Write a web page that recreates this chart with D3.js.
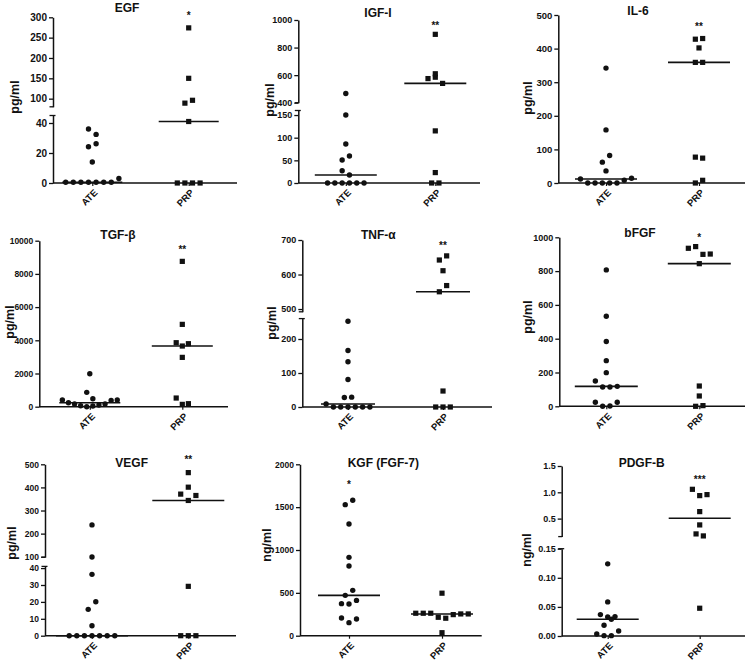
<!DOCTYPE html>
<html>
<head>
<meta charset="utf-8">
<script src="https://cdn.jsdelivr.net/npm/d3@7"></script>
<style>
  body { margin: 0; background: #fff; }
  text { font-family: "Liberation Sans", Arial, sans-serif; font-weight: bold; fill: #111; }
</style>
</head>
<body>
<div id="chart"></div>
<script>
const CATEGORIES = ["ATE", "PRP"];

// values, one array per group
const egfATE = [0.5, 0.5, 0.5, 0.5, 0.5, 0.5, 0.5, 3, 24.2, 26.2, 36, 32.4, 14];
const egfPRP = [0, 0, 0, 0, 41, 89, 96, 150, 274];
const igfATE = [0, 0, 0, 0, 0, 0, 27.2, 17.6, 50.7, 59.6, 86, 150, 467];
const igfPRP = [0, 0, 23, 115, 575, 585, 540, 610, 896];
const il6ATE = [12, 0, 0, 0, 0, 0, 8, 14, 36, 62, 82, 158, 342];
const il6PRP = [0, 8, 77, 74, 359, 359, 402, 428, 430];
const tgfATE = [400, 240, 160, 60, 0, 40, 100, 160, 380, 400, 863, 482, 1988];
const tgfPRP = [522, 140, 181, 2972, 3855, 3655, 3795, 4960, 8755];
const tnfATE = [8.9, 0, 0, 0, 0, 0, 0, 28, 29, 81, 133, 166, 252];
const tnfPRP = [0, 0, 0, 47, 550, 568, 611, 642, 654];
const bfgfATE = [24, 0, 2, 24, 150, 114, 114, 118, 199, 270, 383, 533, 807];
const bfgfPRP = [0, 4, 61, 120, 844, 935, 945, 899, 901];
const vegfATE = [0, 0, 0, 0, 0, 0, 0, 5.9, 15.6, 20.1, 36.3, 98.6, 237.7];
const vegfPRP = [0, 0, 0, 29.2, 371, 343.5, 365, 401, 464];
const kgfATE = [206, 152, 195, 374, 370, 412, 471, 529, 813, 914, 1303, 1529, 1580];
const kgfPRP = [262, 262, 262, 215, 204, 246, 254, 254, 496, 35];
const pdgfATE = [0.0034, 0.0006, 0.0006, 0.0086, 0.0184, 0.0368, 0.0287, 0.0328, 0.0333, 0.0586, 0.124];
const pdgfPRP = [0.0477, 0.209, 0.171, 0.380, 0.633, 1.057, 0.937, 0.956];

// y-axis segments (broken axes have two)
const egfTicksLow = [0, 20, 40], egfTicksHigh = [100, 150, 200, 250, 300];
const igfTicksLow = [0, 50, 100, 150], igfTicksHigh = [400, 600, 800, 1000];
const il6Ticks = [0, 100, 200, 300, 400, 500];
const tgfTicks = [0, 2000, 4000, 6000, 8000, 10000];
const tnfTicksLow = [0, 100, 200], tnfTicksHigh = [500, 600, 700];
const bfgfTicks = [0, 200, 400, 600, 800, 1000];
const vegfTicksLow = [0, 10, 20, 30, 40], vegfTicksHigh = [100, 200, 300, 400, 500];
const kgfTicks = [0, 500, 1000, 1500, 2000];
const pdgfTicksLow = [0, 0.05, 0.10, 0.15], pdgfTicksHigh = [0.5, 1.0, 1.5];

const PANELS = [
  { title: "EGF", unit: "pg/ml", data: [egfATE, egfPRP], sig: "*", sigCol: "PRP",
    ax: 53, xEnd: 237, cols: [92.3, 188.7], fs: 10, gap: 7.6, medW: 60,
    titleXY: [127, 11.5], unitXY: [15, 97], sigY: 19,
    segs: [{ d: [0, 45], r: [183, 115.5], t: egfTicksLow }, { d: [80, 300], r: [106.8, 17.3], t: egfTicksHigh }] },
  { title: "IGF-I", unit: "pg/ml", data: [igfATE, igfPRP], sig: "**", sigCol: "PRP",
    ax: 298.3, xEnd: 480, cols: [345.8, 435.3], fs: 9, gap: 7.3, medW: 62,
    titleXY: [378, 16.5], unitXY: [270, 100], sigY: 29,
    segs: [{ d: [0, 160], r: [183, 110.5], t: igfTicksLow }, { d: [400, 1000], r: [102.7, 20], t: igfTicksHigh }] },
  { title: "IL-6", unit: "pg/ml", data: [il6ATE, il6PRP], sig: "**", sigCol: "PRP",
    ax: 558.3, xEnd: 745, cols: [606, 699], fs: 9.5, gap: 7.3, medW: 62,
    titleXY: [638, 14.5], unitXY: [528, 98], sigY: 30,
    segs: [{ d: [0, 500], r: [183, 15], t: il6Ticks }] },
  { title: "TGF-β", unit: "pg/ml", data: [tgfATE, tgfPRP], sig: "**", sigCol: "PRP",
    ax: 39.3, xEnd: 228, cols: [89.8, 182.3], fs: 8.5, gap: 6.1, medW: 61,
    titleXY: [118, 238.5], unitXY: [10, 322], sigY: 253,
    segs: [{ d: [0, 10000], r: [406.7, 240.7], t: tgfTicks }] },
  { title: "TNF-α", unit: "pg/ml", data: [tnfATE, tnfPRP], sig: "**", sigCol: "PRP",
    ax: 302.3, xEnd: 492, cols: [348, 443], fs: 9, gap: 7.3, medW: 54,
    titleXY: [378.3, 238.5], unitXY: [272, 323], sigY: 249,
    segs: [{ d: [0, 260], r: [407, 318.6], t: tnfTicksLow }, { d: [492, 700], r: [311.8, 240], t: tnfTicksHigh }] },
  { title: "bFGF", unit: "pg/ml", data: [bfgfATE, bfgfPRP], sig: "*", sigCol: "PRP",
    ax: 559.3, xEnd: 745, cols: [606.3, 699.3], fs: 9, gap: 7.3, medW: 63,
    titleXY: [640, 236.5], unitXY: [528, 317], sigY: 241,
    segs: [{ d: [0, 1000], r: [406.3, 237.3], t: bfgfTicks }] },
  { title: "VEGF", unit: "pg/ml", data: [vegfATE, vegfPRP], sig: "**", sigCol: "PRP",
    ax: 45, xEnd: 236, cols: [92, 188.3], fs: 8.5, gap: 7.6, medW: 72,
    titleXY: [131.7, 467], unitXY: [12, 543], sigY: 463,
    segs: [{ d: [0, 41], r: [635.7, 566.4], t: vegfTicksLow }, { d: [98, 500], r: [557.2, 464.3], t: vegfTicksHigh }] },
  { title: "KGF (FGF-7)", unit: "ng/ml", data: [kgfATE, kgfPRP], sig: "*", sigCol: "ATE",
    ax: 300, xEnd: 481.7, cols: [349, 442], fs: 8.5, gap: 7.5, medW: 62,
    titleXY: [383.3, 467], unitXY: [267, 545], sigY: 488,
    segs: [{ d: [0, 2000], r: [635.7, 464.3], t: kgfTicks }] },
  { title: "PDGF-B", unit: "ng/ml", data: [pdgfATE, pdgfPRP], sig: "***", sigCol: "PRP",
    ax: 561.7, xEnd: 745, cols: [607.7, 699.7], fs: 9, gap: 7.3, medW: 62,
    titleXY: [641.7, 467], unitXY: [527, 550], sigY: 483,
    segs: [{ d: [0, 0.15], r: [636, 548.7], t: pdgfTicksLow, fmt: ".2f" },
           { d: [0.158, 1.5], r: [536.6, 466], t: pdgfTicksHigh, fmt: ".1f" }] }
];

const INK = "#111";
const ROW_GAP = 7.8;   // points closer than this (px) share a row

const svg = d3.select("#chart").append("svg")
    .attr("width", 746)
    .attr("height", 662);

// GraphPad-like scatter: bin into rows by pixel height, spread each row centred
function swarm(values, y, gap) {
  const order = values.map((v, i) => i).sort((a, b) => values[a] - values[b] || a - b);
  const off = new Array(values.length);
  let row = [], start = null;
  const flush = () => {
    row.sort((a, b) => a - b);
    row.forEach((i, k) => off[i] = (k - (row.length - 1) / 2) * gap);
  };
  order.forEach(i => {
    const py = y(values[i]);
    if (start === null || start - py > ROW_GAP) {
      if (row.length) flush();
      row = [i];
      start = py;
    } else {
      row.push(i);
    }
  });
  if (row.length) flush();
  return off;
}

PANELS.forEach(p => {
  const g = svg.append("g");
  const segs = p.segs.map(s => Object.assign({}, s, { sc: d3.scaleLinear().domain(s.d).range(s.r) }));
  const y = v => (segs.find(s => v <= s.d[1]) || segs[segs.length - 1]).sc(v);
  const y0 = segs[0].r[0];

  // y axis, one piece per segment
  segs.forEach((s, i) => {
    const a = g.append("g")
        .attr("transform", `translate(${p.ax},0)`)
        .call(d3.axisLeft(s.sc)
          .tickValues(s.t)
          .tickFormat(d3.format(s.fmt || "d"))
          .tickSize(4)
          .tickSizeOuter(0)
          .tickPadding(2));
    a.select(".domain").attr("stroke", INK).attr("stroke-width", 1.5);
    a.selectAll(".tick line").attr("stroke", INK).attr("stroke-width", 1.3);
    a.selectAll(".tick text")
        .attr("fill", INK)
        .style("font-size", p.fs + "px")
        .style("font-family", "'Liberation Sans', Arial, sans-serif")
        .style("font-weight", "bold");
    if (segs.length > 1) {
      // small caps where the axis is broken
      const capY = i === 0 ? s.r[1] : s.r[0];
      g.append("line")
          .attr("x1", p.ax - 3.5).attr("x2", p.ax + (i === 0 ? 2.5 : 0.5))
          .attr("y1", capY).attr("y2", capY)
          .attr("stroke", INK).attr("stroke-width", 1.3);
    }
  });

  // x axis
  const x = d3.scalePoint().domain(CATEGORIES).range(p.cols);
  g.append("line")
      .attr("x1", p.ax).attr("x2", p.xEnd)
      .attr("y1", y0).attr("y2", y0)
      .attr("stroke", INK).attr("stroke-width", 1.5);
  const xa = g.append("g")
      .attr("transform", `translate(0,${y0})`)
      .call(d3.axisBottom(x).tickSize(3).tickSizeOuter(0));
  xa.select(".domain").remove();
  xa.selectAll(".tick line").attr("stroke", INK).attr("stroke-width", 1.2);
  xa.selectAll(".tick text")
      .attr("x", 0).attr("y", 0).attr("dy", "0.35em")
      .attr("transform", "translate(3,8) rotate(-45)")
      .style("text-anchor", "end")
      .attr("fill", INK)
      .style("font-size", "9.5px")
      .style("font-family", "'Liberation Sans', Arial, sans-serif")
      .style("font-weight", "bold");

  // points
  CATEGORIES.forEach((c, ci) => {
    const vals = p.data[ci];
    const off = swarm(vals, y, p.gap);
    const pts = g.append("g").selectAll(ci === 0 ? "circle" : "rect")
      .data(vals.map((v, i) => ({ v: v, dx: off[i] })))
      .enter();
    if (ci === 0) {
      pts.append("circle")
          .attr("cx", d => x(c) + d.dx)
          .attr("cy", d => y(d.v))
          .attr("r", 2.7)
          .attr("fill", INK);
    } else {
      pts.append("rect")
          .attr("x", d => x(c) + d.dx - 2.6)
          .attr("y", d => y(d.v) - 2.6)
          .attr("width", 5.2)
          .attr("height", 5.2)
          .attr("fill", INK);
    }
    const med = d3.median(vals);
    g.append("line")
        .attr("x1", x(c) - p.medW / 2).attr("x2", x(c) + p.medW / 2)
        .attr("y1", y(med)).attr("y2", y(med))
        .attr("stroke", INK).attr("stroke-width", 1.6);
  });

  // titles and labels
  g.append("text")
      .attr("x", p.titleXY[0]).attr("y", p.titleXY[1])
      .attr("text-anchor", "middle")
      .style("font-size", "12px")
      .text(p.title);

  g.append("text")
      .attr("transform", `translate(${p.unitXY[0] + 4},${p.unitXY[1]}) rotate(-90)`)
      .attr("text-anchor", "middle")
      .style("font-size", "12.5px")
      .text(p.unit);

  g.append("text")
      .attr("x", x(p.sigCol)).attr("y", p.sigY)
      .attr("text-anchor", "middle")
      .style("font-size", "10px")
      .text(p.sig);
});
</script>
</body>
</html>
